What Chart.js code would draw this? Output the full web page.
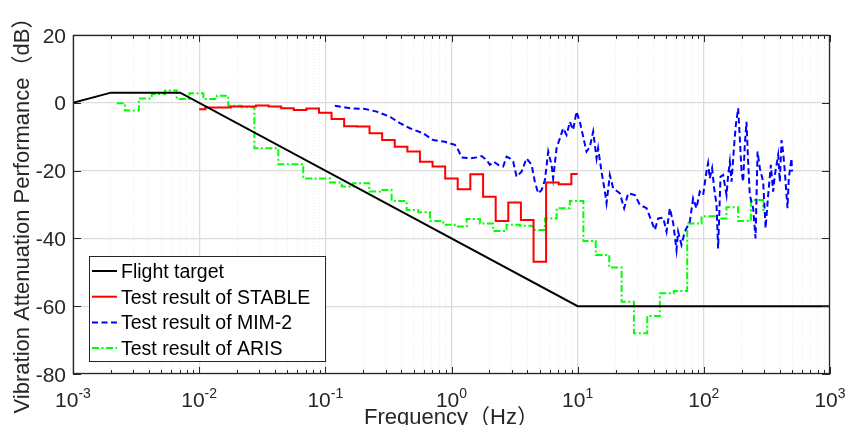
<!DOCTYPE html>
<html>
<head>
<meta charset="utf-8">
<script src="https://cdn.jsdelivr.net/npm/chart.js@4/dist/chart.umd.min.js"></script>
<style>
  html, body { margin: 0; padding: 0; background: #fff; overflow: hidden; }
  #wrap { width: 859px; height: 425px; position: relative; }
</style>
</head>
<body>
<div id="wrap"><canvas id="c" width="859" height="425"></canvas></div>
<script>
// Flight target envelope (Hz, dB)
const targetFreq = [0.001, 0.002, 0.00708, 10, 1000];
const targetDb   = [0, 3, 3, -60, -60];

// STABLE: band start frequency (Hz) and band level (dB); last point closes the final band
const stableFreq = [0.01, 0.0112, 0.0178, 0.0282, 0.0355, 0.0447, 0.0562, 0.0708, 0.0891, 0.112,
                    0.141, 0.178, 0.224, 0.282, 0.355, 0.447, 0.562, 0.708, 0.891, 1.12,
                    1.41, 1.78, 2.24, 2.82, 3.55, 4.47, 5.62, 7.08, 8.91, 10];
const stableDb   = [-1.9, -1.4, -1.1, -0.8, -1.1, -1.6, -2.1, -1.7, -2.9, -4.8,
                    -6.9, -7.0, -9.0, -11.0, -13.0, -14.4, -17.4, -18.8, -22.3, -25.5,
                    -21.1, -27.7, -34.9, -29.4, -34.6, -46.9, -23.5, -24.0, -21.0, -21.0];

// MIM-2: measured transfer curve (Hz, dB)
const mimFreq = [0.119, 0.157, 0.206, 0.255, 0.325, 0.390, 0.468, 0.597, 0.716, 0.887,
                 1.064, 1.130, 1.202, 1.400, 1.581, 1.733, 1.898, 2.015, 2.168, 2.346,
                 2.569, 2.733, 2.904, 3.086, 3.280, 3.592, 3.936, 4.313, 4.580, 4.866,
                 5.178, 5.500, 5.843, 6.209, 6.393, 6.801, 7.226, 7.677, 8.164, 8.676,
                 9.209, 9.79, 10.40, 11.75, 12.49, 13.27, 14.12, 14.53, 15.45, 16.43,
                 16.94, 17.99, 19.11, 21.59, 23.35, 25.12, 28.38, 31.10, 35.15, 40.91,
                 43.45, 47.62, 50.63, 53.80, 57.16, 60.75, 62.55, 66.48, 70.63, 77.38,
                 82.21, 87.40, 92.87, 98.7, 104.9, 108.1, 111.4, 116.3, 120.7, 126.1,
                 129.8, 135.6, 142.2, 151.3, 155.9, 160.8, 165.8, 173.9, 179.4, 187.1,
                 192.9, 199.0, 204.9, 211.2, 217.9, 224.4, 231.5, 246.0, 257.0, 266.6,
                 278.0, 295.3, 308.6, 323.6, 339.8, 354.2, 365.4, 388.3, 400.3, 412.8,
                 424.8, 438.5, 460.3, 471.2, 495.2, 500];
const mimDb = [-0.9, -1.6, -1.8, -2.6, -4.1, -6.0, -7.5, -9.0, -11.0, -11.5,
               -12.4, -13.9, -16.1, -16.4, -16.1, -15.7, -16.9, -18.3, -17.4, -18.3,
               -18.8, -15.9, -16.4, -17.4, -21.8, -20.3, -16.4, -18.3, -23.3, -26.7,
               -25.7, -22.8, -14.4, -18.3, -22.3, -13.4, -10.5, -7.5, -9.5, -5.6,
               -8.0, -2.6, -5.6, -14.4, -13.0, -8.5, -16.4, -13.4, -20.3, -26.2,
               -29.6, -21.3, -25.2, -26.7, -31.1, -26.7, -27.2, -30.1, -31.1, -37.5,
               -34.1, -33.9, -38.0, -31.1, -35.5, -43.4, -38.0, -41.9, -38.0, -35.1,
               -28.2, -31.1, -26.2, -27.2, -20.3, -17.8, -22.3, -19.3, -25.2, -30.1,
               -43.0, -21.8, -21.3, -27.2, -21.3, -17.4, -23.3, -12.4, -6.5, -1.6,
               -10.5, -20.3, -23.3, -12.4, -5.6, -17.4, -27.2, -31.1, -40.0, -14.4,
               -19.3, -23.3, -37.0, -27.2, -18.3, -26.2, -21.3, -15.4, -23.3, -11.0,
               -14.4, -20.3, -31.1, -22.3, -16.4, -20.3];

// ARIS: band start frequency (Hz) and band level (dB); last point closes the final band
const arisFreq = [0.00222, 0.00258, 0.00333, 0.00421, 0.00536, 0.00664, 0.00835, 0.0108, 0.0138, 0.0170,
                  0.0217, 0.0274, 0.0424, 0.0668, 0.109, 0.135, 0.166, 0.223, 0.271, 0.335,
                  0.441, 0.545, 0.675, 0.860, 1.06, 1.32, 1.68, 2.14, 2.73, 3.48,
                  4.44, 5.50, 6.81, 8.67, 11.1, 13.9, 17.8, 22.3, 27.9, 35.6,
                  44.8, 57.8, 73.8, 95.9, 122, 151, 187, 236, 295, 304];
const arisDb   = [-0.1, -2.3, 1.3, 2.6, 3.6, 1.1, 2.8, 1.1, 2.1, -0.9,
                  -1.3, -13.4, -18.1, -22.3, -23.5, -24.7, -23.7, -26.2, -25.7, -29.0,
                  -31.6, -32.3, -34.9, -36.0, -36.5, -34.3, -35.6, -37.8, -36.0, -36.3,
                  -37.5, -34.1, -31.1, -29.0, -40.8, -44.9, -48.6, -58.7, -68.0, -62.9,
                  -56.2, -55.5, -35.6, -33.5, -34.1, -30.8, -34.9, -28.7, -31.6, -31.6];

const seriesNames = ['Flight target', 'Test result of STABLE', 'Test result of MIM-2', 'Test result of ARIS'];
const decadeExps = [-3, -2, -1, 0, 1, 2, 3];
const minorMultipliers = [2, 3, 4, 5, 6, 7, 8, 9];
const yTickValues = [-80, -60, -40, -20, 0, 20];
const xTitle = 'Frequency（Hz）';
const yTitle = 'Vibration Attenuation Performance（dB）';

const FONT = '"Liberation Sans", Arial, "Noto Sans CJK SC", sans-serif';
const AXIS = '#262626';

const pts = (xs, ys) => xs.map((v, i) => ({ x: v, y: ys[i] }));
const isDecade = v => Math.abs(Math.log10(v) - Math.round(Math.log10(v))) < 1e-9;

// axis box, inward ticks, tick labels, axis titles and legend
const decor = {
  id: 'decor',
  afterDraw(chart) {
    const { ctx, chartArea: a, scales: { x, y } } = chart;
    ctx.save();

    ctx.strokeStyle = AXIS;
    ctx.lineWidth = 1;
    ctx.beginPath();
    x.ticks.forEach(t => {
      const px = Math.round(x.getPixelForValue(t.value)) + 0.5;
      const len = isDecade(t.value) ? 7 : 4;
      ctx.moveTo(px, a.bottom); ctx.lineTo(px, a.bottom - len);
      ctx.moveTo(px, a.top); ctx.lineTo(px, a.top + len);
    });
    y.ticks.forEach(t => {
      const py = Math.round(y.getPixelForValue(t.value)) + 0.5;
      ctx.moveTo(a.left, py); ctx.lineTo(a.left + 8, py);
      ctx.moveTo(a.right, py); ctx.lineTo(a.right - 8, py);
    });
    ctx.stroke();

    ctx.lineWidth = 1.3;
    ctx.strokeRect(a.left + 0.5, a.top + 0.5, a.right - a.left - 1, a.bottom - a.top - 1);

    // x tick labels: 10 with superscript exponent
    ctx.fillStyle = AXIS;
    ctx.textBaseline = 'alphabetic';
    decadeExps.forEach(e => {
      const px = x.getPixelForValue(Math.pow(10, e));
      ctx.font = '21px ' + FONT;
      const wb = ctx.measureText('10').width;
      ctx.font = '14px ' + FONT;
      const ex = String(e);
      const we = ctx.measureText(ex).width;
      const x0 = px - (wb + we) / 2;
      ctx.font = '21px ' + FONT;
      ctx.textAlign = 'left';
      ctx.fillText('10', x0, 406.5);
      ctx.font = '14px ' + FONT;
      ctx.fillText(ex, x0 + wb, 398);
    });

    // y tick labels
    ctx.font = '21px ' + FONT;
    ctx.textAlign = 'right';
    y.ticks.forEach(t => {
      const py = y.getPixelForValue(t.value);
      ctx.fillText(String(t.value), 66, py + 7.5);
    });

    // axis titles
    ctx.font = '22px ' + FONT;
    ctx.textAlign = 'center';
    ctx.fillText(xTitle, (a.left + a.right) / 2, 424);
    ctx.save();
    ctx.translate(29, 210);
    ctx.rotate(-Math.PI / 2);
    ctx.fillText(yTitle, 0, 0);
    ctx.restore();

    // legend
    const lx = 89.5, ly = 256.5, lw = 236, lh = 105;
    ctx.fillStyle = '#fff';
    ctx.fillRect(lx, ly, lw, lh);
    ctx.strokeStyle = AXIS;
    ctx.lineWidth = 1;
    ctx.strokeRect(lx, ly, lw, lh);
    ctx.font = '19.5px ' + FONT;
    ctx.textAlign = 'left';
    chart.data.datasets.forEach((ds, i) => {
      const cy = 271 + i * 25.7;
      ctx.save();
      ctx.strokeStyle = ds.borderColor;
      ctx.lineWidth = ds.borderWidth;
      ctx.setLineDash(ds.borderDash || []);
      ctx.beginPath();
      ctx.moveTo(92, cy); ctx.lineTo(117, cy);
      ctx.stroke();
      ctx.restore();
      ctx.fillStyle = '#000';
      ctx.fillText(ds.label, 121, cy + 7);
    });

    ctx.restore();
  }
};

new Chart(document.getElementById('c'), {
  type: 'line',
  data: {
    datasets: [
      { label: seriesNames[0], data: pts(targetFreq, targetDb), borderColor: '#000000', borderWidth: 2 },
      { label: seriesNames[1], data: pts(stableFreq, stableDb), borderColor: '#ff0000', borderWidth: 2, stepped: true },
      { label: seriesNames[2], data: pts(mimFreq, mimDb), borderColor: '#0000ff', borderWidth: 2, borderDash: [6, 3.5] },
      { label: seriesNames[3], data: pts(arisFreq, arisDb), borderColor: '#00ff00', borderWidth: 2, borderDash: [7, 2.5, 2, 2.5], stepped: true }
    ]
  },
  options: {
    responsive: false,
    animation: false,
    events: [],
    layout: { padding: { left: 73, right: 29, top: 35, bottom: 51 } },
    elements: { point: { radius: 0 }, line: { tension: 0, borderJoinStyle: 'miter' } },
    plugins: { legend: { display: false }, tooltip: { enabled: false } },
    scales: {
      x: {
        type: 'logarithmic',
        min: 0.001,
        max: 1000,
        afterBuildTicks: scale => {
          const vals = [];
          decadeExps.forEach((e, i) => {
            vals.push(Math.pow(10, e));
            if (i < decadeExps.length - 1) minorMultipliers.forEach(m => vals.push(m * Math.pow(10, e)));
          });
          scale.ticks = vals.map(v => ({ value: v }));
        },
        afterFit: scale => { scale.height = 0; },
        ticks: { display: false },
        title: { display: false },
        border: {
          display: false,
          dash: ctx => (ctx.tick && !isDecade(ctx.tick.value)) ? [1, 2] : []
        },
        grid: {
          drawTicks: false,
          color: ctx => (ctx.tick && isDecade(ctx.tick.value)) ? '#dcdcdc' : '#ececec',
          lineWidth: ctx => (ctx.tick && isDecade(ctx.tick.value)) ? 1.3 : 1
        }
      },
      y: {
        type: 'linear',
        min: -80,
        max: 20,
        afterBuildTicks: scale => { scale.ticks = yTickValues.map(v => ({ value: v })); },
        afterFit: scale => { scale.width = 0; },
        ticks: { display: false },
        title: { display: false },
        border: { display: false },
        grid: { drawTicks: false, color: '#dcdcdc', lineWidth: 1.3 }
      }
    }
  },
  plugins: [decor]
});
</script>
</body>
</html>
